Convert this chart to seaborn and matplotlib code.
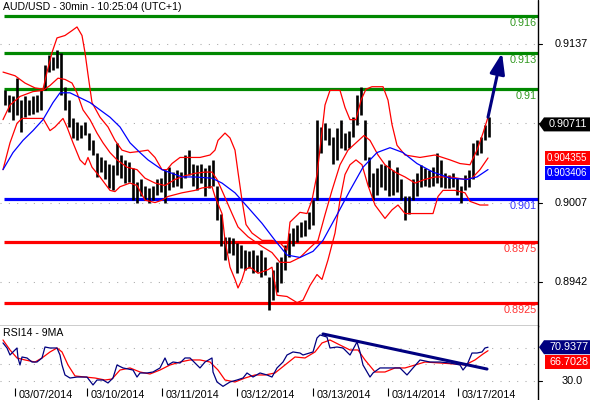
import numpy as np
import matplotlib
matplotlib.use("Agg")
import matplotlib.pyplot as plt
import seaborn as sns
from matplotlib.patches import Polygon, FancyArrowPatch
from matplotlib.lines import Line2D

sns.set_theme(style="white")
plt.rcParams['font.family'] = ['Liberation Sans', 'DejaVu Sans']

# ---------------- data ----------------
title = "AUD/USD - 30min - 10:25:04 (UTC+1)"
rsi_title = "RSI14 - 9MA"

bar_high = [0.9099, 0.9095, 0.9094, 0.9109, 0.9091, 0.9094, 0.9091, 0.9094, 0.9095, 0.9099,
            0.9120, 0.9128, 0.9126, 0.9132, 0.9130, 0.9102, 0.9091, 0.9076, 0.9073, 0.9071,
            0.9073, 0.9064, 0.9058, 0.9048, 0.9044, 0.9042, 0.9039, 0.9038, 0.9056, 0.9046,
            0.9042, 0.9040, 0.9035, 0.9024, 0.9026, 0.9021, 0.9019, 0.9021, 0.9026, 0.9027,
            0.9034, 0.9036, 0.9032, 0.9034, 0.9032, 0.9046, 0.9050, 0.9039, 0.9038, 0.9039,
            0.9035, 0.9038, 0.9042, 0.9021, 0.8998, 0.8979, 0.8979, 0.8978, 0.8974, 0.8972,
            0.8968, 0.8967, 0.8968, 0.8964, 0.8968, 0.8962, 0.8946, 0.8952, 0.8958, 0.8962,
            0.8972, 0.8982, 0.8986, 0.8989, 0.8991, 0.8993, 0.8999, 0.9009, 0.9075, 0.9069,
            0.9072, 0.9068, 0.9061, 0.9068, 0.9075, 0.9064, 0.9066, 0.9077, 0.9095, 0.9102,
            0.9075, 0.9044, 0.9031, 0.9035, 0.9039, 0.9038, 0.9042, 0.9034, 0.9036, 0.9026,
            0.9012, 0.9012, 0.9026, 0.9031, 0.9038, 0.9035, 0.9034, 0.9036, 0.9048, 0.9042,
            0.9031, 0.9030, 0.9031, 0.9027, 0.9021, 0.9030, 0.9034, 0.9056, 0.9058, 0.9061,
            0.9071, 0.9077]
bar_low = [0.9087, 0.9081, 0.9075, 0.9079, 0.9065, 0.9077, 0.9079, 0.9080, 0.9081, 0.9083,
           0.9099, 0.9114, 0.9116, 0.9117, 0.9095, 0.9083, 0.9069, 0.9060, 0.9058, 0.9060,
           0.9062, 0.9050, 0.9046, 0.9028, 0.9032, 0.9026, 0.9019, 0.9017, 0.9030, 0.9027,
           0.9023, 0.9024, 0.9009, 0.9007, 0.9012, 0.9009, 0.9007, 0.9009, 0.9013, 0.9016,
           0.9007, 0.9017, 0.9020, 0.9021, 0.9019, 0.9027, 0.9030, 0.9021, 0.9017, 0.9023,
           0.9012, 0.9019, 0.9021, 0.8993, 0.8971, 0.8960, 0.8966, 0.8964, 0.8949, 0.8953,
           0.8952, 0.8953, 0.8949, 0.8950, 0.8946, 0.8948, 0.8919, 0.8927, 0.8934, 0.8941,
           0.8952, 0.8962, 0.8971, 0.8975, 0.8979, 0.8980, 0.8985, 0.8989, 0.9009, 0.9048,
           0.9058, 0.9054, 0.9039, 0.9042, 0.9052, 0.9050, 0.9052, 0.9061, 0.9071, 0.9079,
           0.9042, 0.9020, 0.9009, 0.9013, 0.9020, 0.9017, 0.9012, 0.9013, 0.9016, 0.9009,
           0.8993, 0.8998, 0.9009, 0.9012, 0.9020, 0.9021, 0.9020, 0.9021, 0.9023, 0.9020,
           0.9019, 0.9019, 0.9020, 0.9013, 0.9007, 0.9017, 0.9020, 0.9026, 0.9046, 0.9048,
           0.9058, 0.9061]

upper_t = [3, 15, 25, 35, 43, 47, 52, 57, 65, 72, 77, 82, 85, 88, 92, 100, 108, 115, 122, 130,
           140, 148, 155, 162, 167, 172, 180, 190, 200, 210, 215, 218, 225, 230, 235, 238, 242,
           246, 252, 262, 272, 280, 287, 290, 300, 307, 312, 317, 321, 325, 330, 340, 345, 350,
           356, 361, 366, 372, 383, 388, 392, 397, 405, 420, 435, 450, 460, 470, 477, 483, 488]
upper_v = [0.9114, 0.9111, 0.9105, 0.9101, 0.9100, 0.9114, 0.9130, 0.9142, 0.9144, 0.9148,
           0.9151, 0.9144, 0.9130, 0.9112, 0.9089, 0.9077, 0.9069, 0.9058, 0.9050, 0.9048,
           0.9049, 0.9050, 0.9044, 0.9034, 0.9034, 0.9039, 0.9044, 0.9044, 0.9044, 0.9046,
           0.9050, 0.9058, 0.9064, 0.9060, 0.9050, 0.9032, 0.9009, 0.8989, 0.8982, 0.8976,
           0.8976, 0.8974, 0.8968, 0.8991, 0.8999, 0.8998, 0.9009, 0.9030, 0.9058, 0.9087,
           0.9099, 0.9099, 0.9085, 0.9075, 0.9075, 0.9091, 0.9100, 0.9102, 0.9102, 0.9091,
           0.9071, 0.9054, 0.9046, 0.9044, 0.9046, 0.9042, 0.9039, 0.9038, 0.9050, 0.9064,
           0.9077]

mid_t = [3, 10, 20, 33, 43, 50, 58, 65, 72, 77, 83, 90, 97, 103, 110, 117, 127, 137, 145, 155,
         165, 175, 185, 195, 205, 212, 217, 223, 232, 238, 248, 262, 272, 280, 290, 300, 310,
         318, 325, 332, 340, 348, 356, 364, 370, 378, 385, 395, 405, 415, 425, 435, 450, 465,
         472, 480, 488]
mid_v = [0.9075, 0.9087, 0.9094, 0.9098, 0.9099, 0.9103, 0.9109, 0.9108, 0.9105, 0.9097,
         0.9083, 0.9075, 0.9064, 0.9056, 0.9048, 0.9042, 0.9036, 0.9034, 0.9027, 0.9023,
         0.9021, 0.9026, 0.9029, 0.9031, 0.9032, 0.9032, 0.9026, 0.9015, 0.8998, 0.8987,
         0.8979, 0.8971, 0.8966, 0.8958, 0.8958, 0.8962, 0.8970, 0.8976, 0.8997, 0.9017,
         0.9038, 0.9050, 0.9056, 0.9062, 0.9058, 0.9046, 0.9038, 0.9032, 0.9028, 0.9023,
         0.9026, 0.9028, 0.9028, 0.9026, 0.9027, 0.9034, 0.904355]

lower_t = [3, 10, 17, 22, 43, 50, 55, 63, 67, 73, 80, 85, 88, 92, 100, 110, 115, 120, 130, 137,
           145, 155, 162, 168, 182, 195, 202, 212, 215, 222, 225, 230, 235, 238, 242, 245, 250,
           258, 268, 272, 277, 287, 297, 303, 310, 317, 322, 328, 335, 340, 345, 350, 356, 362,
           368, 375, 385, 392, 398, 405, 420, 433, 438, 443, 455, 465, 470, 480, 488]
lower_v = [0.9034, 0.9056, 0.9072, 0.9076, 0.9076, 0.9066, 0.9069, 0.9076, 0.9069, 0.9056,
           0.9042, 0.9038, 0.9044, 0.9036, 0.9028, 0.9017, 0.9016, 0.9020, 0.9023, 0.9021,
           0.9009, 0.9007, 0.9009, 0.9012, 0.9015, 0.9017, 0.9019, 0.9020, 0.9012, 0.8998,
           0.8976, 0.8954, 0.8944, 0.8937, 0.8944, 0.8952, 0.8954, 0.8949, 0.8952, 0.8954,
           0.8931, 0.8930, 0.8925, 0.8927, 0.8939, 0.8948, 0.8944, 0.8960, 0.8982, 0.9009,
           0.9030, 0.9038, 0.9042, 0.9038, 0.9021, 0.9005, 0.8994, 0.9001, 0.9005, 0.8998,
           0.8998, 0.8998, 0.9012, 0.9017, 0.9017, 0.9015, 0.9008, 0.9005, 0.9005]

ma_t = [3, 13, 23, 33, 43, 53, 60, 70, 80, 90, 100, 110, 120, 130, 140, 148, 162, 172, 182, 195,
        212, 222, 235, 248, 262, 275, 287, 300, 313, 323, 337, 350, 363, 377, 390, 403, 417,
        433, 450, 467, 477, 488]
ma_v = [0.9034, 0.9048, 0.9058, 0.9066, 0.9075, 0.9089, 0.9097, 0.9097, 0.9093, 0.9089,
        0.9083, 0.9077, 0.9069, 0.9056, 0.9048, 0.9042, 0.9034, 0.9031, 0.9028, 0.9028,
        0.9027, 0.9023, 0.9015, 0.9003, 0.8990, 0.8976, 0.8964, 0.8962, 0.8967, 0.8976,
        0.8997, 0.9017, 0.9036, 0.9048, 0.9052, 0.9048, 0.9039, 0.9032, 0.9027, 0.9026,
        0.9028, 0.903406]

rsi_t = [3, 7, 10, 13, 17, 18, 20, 22, 27, 32, 37, 42, 45, 50, 57, 60, 62, 65, 70, 77,
         87, 93, 97, 103, 108, 113, 117, 123, 133, 137, 140, 147, 153, 160, 165, 168, 173, 180,
         185, 190, 197, 200, 205, 212, 213, 217, 223, 230, 237, 243, 247, 253, 260, 267, 272,
         277, 283, 287, 293, 300, 303, 313, 317, 320, 327, 330, 337, 343, 350, 357, 360, 363,
         370, 373, 380, 390, 400, 407, 413, 420, 430, 440, 450, 460, 463, 467, 472, 477, 482,
         485, 488]
rsi_v = [76.1, 70.0, 61.5, 65.2, 70.0, 57.9, 49.4, 59.1, 57.9, 53.0, 53.0, 57.9, 71.2, 70.0,
         70.0, 61.5, 49.4, 37.3, 33.6, 34.8, 34.8, 25.2, 31.2, 31.2, 27.6, 33.6, 49.4, 45.8,
         43.3, 34.8, 39.7, 39.7, 40.9, 45.8, 57.9, 49.4, 53.0, 51.8, 57.9, 57.9, 49.4, 45.8,
         53.0, 57.9, 40.9, 28.8, 23.5, 28.8, 31.2, 33.6, 39.7, 34.8, 39.7, 37.3, 34.8, 45.8,
         53.0, 61.5, 65.2, 63.9, 61.5, 65.2, 82.1, 85.8, 83.3, 70.0, 71.2, 70.0, 61.5, 77.3,
         65.2, 49.4, 34.8, 39.7, 45.8, 45.8, 45.8, 37.3, 45.8, 55.5, 53.0, 53.0, 51.8, 49.4,
         43.3, 49.4, 63.9, 63.9, 65.2, 70.0, 70.9377]

rsima_t = [3, 10, 17, 25, 35, 42, 50, 57, 62, 68, 75, 85, 95, 105, 112, 120, 130, 140, 150,
           160, 170, 180, 190, 200, 210, 218, 225, 235, 245, 255, 265, 275, 285, 295, 305, 315,
           322, 330, 340, 350, 358, 365, 375, 385, 395, 405, 415, 425, 440, 455, 465, 475, 483,
           488]
rsima_v = [79.7, 67.6, 57.9, 55.5, 53.0, 57.9, 65.2, 70.0, 65.2, 49.4, 36.1, 34.8, 33.6, 31.2,
           32.4, 43.3, 45.8, 40.9, 38.5, 43.3, 49.4, 53.0, 55.5, 55.5, 53.0, 43.3, 31.2, 28.8,
           33.6, 37.3, 37.3, 39.7, 49.4, 59.1, 57.9, 65.2, 76.1, 79.7, 73.6, 67.6, 67.6, 55.5,
           40.9, 40.9, 45.8, 45.8, 49.4, 53.0, 51.8, 50.6, 49.4, 55.5, 62.7, 66.7028]

rsi_trend_t = [323, 487]
rsi_trend_v = [87.0, 44.5]
arrow_t = [488, 502]
arrow_v = [0.9077, 0.91296]

green_levels = [0.916, 0.913, 0.91]
green_labels = ['0.916', '0.913', '0.91']
blue_levels = [0.901]
blue_labels = ['0.901']
red_levels = [0.8975, 0.8925]
red_labels = ['0.8975', '0.8925']

price_ticks = [0.9137, 0.9072, 0.9007, 0.8942]
price_tick_labels = ['0.9137', '', '0.9007', '0.8942']
rsi_grid = [70, 50, 30]
date_t = [15, 87, 162, 237, 313, 388, 458]
date_labels = ['03/07/2014', '03/10/2014', '03/11/2014', '03/12/2014',
               '03/13/2014', '03/14/2014', '03/17/2014']

last_close = 0.90711
bb_mid_last = 0.904355
ma_last = 0.903406
rsi_last = 70.9377
rsi_ma_last = 66.7028

# ---------------- layout ----------------
W, H = 590, 400
fig = plt.figure(figsize=(W / 100, H / 100), dpi=100)
fig.patch.set_facecolor('white')


def fx(x):
    return x / W


def fy(y):
    return 1 - y / H


RIGHT = 538
ax = fig.add_axes([0, fy(326), fx(RIGHT), 326 / H])
axr = fig.add_axes([0, fy(388), fx(RIGHT), (388 - 326) / H])

ax.set_xlim(0, RIGHT)
ax.set_ylim(0.89058, 0.91731)
axr.set_xlim(0, RIGHT)
axr.set_ylim(21.5, 96.67)

for a in (ax, axr):
    a.set_facecolor('white')
    a.grid(False)
    for s in ('left', 'top', 'right'):
        a.spines[s].set_visible(False)
ax.spines['bottom'].set_visible(True)
ax.spines['bottom'].set_color('black')
ax.spines['bottom'].set_linewidth(1.0)
axr.spines['bottom'].set_visible(False)

GRID = dict(color='#a8a8a8', linewidth=0.75, linestyle=(0, (1, 7)), zorder=0)
for v in price_ticks:
    ax.axhline(v, **GRID)
for v in rsi_grid:
    axr.axhline(v, **GRID)

# horizontal levels
LW_LEVEL = 2.3
ax.hlines(green_levels, 4, RIGHT, colors='#008800', linewidth=LW_LEVEL, zorder=2)
ax.hlines(blue_levels, 4, RIGHT, colors='#0000ff', linewidth=LW_LEVEL, zorder=2)
ax.hlines(red_levels, 4, RIGHT, colors='#ff0000', linewidth=LW_LEVEL, zorder=2)


def level_label(val, txt, col):
    ax.annotate(txt, xy=(RIGHT - 1, val), xycoords='data', xytext=(0, -5.0),
                textcoords='offset points', ha='right', va='center', fontsize=7.8,
                color=col, zorder=5)


for v, t in zip(green_levels, green_labels):
    level_label(v, t, '#339922')
for v, t in zip(blue_levels, blue_labels):
    level_label(v, t, '#3333ff')
for v, t in zip(red_levels, red_labels):
    level_label(v, t, '#ff3333')

# price bars
bar_t = [5 + 4 * i for i in range(len(bar_high))]
ax.vlines(bar_t, bar_low, bar_high, colors='black', linewidth=1.9, zorder=3)

# bands and MA
for tt, vv, col in ((upper_t, upper_v, '#ff0000'), (mid_t, mid_v, '#ff0000'),
                    (lower_t, lower_v, '#ff0000'), (ma_t, ma_v, '#0000ff')):
    sns.lineplot(x=tt, y=vv, ax=ax, color=col, linewidth=0.9, sort=False,
                 estimator=None, legend=False, zorder=4)

arr = FancyArrowPatch((arrow_t[0], arrow_v[0]), (arrow_t[1], arrow_v[1]),
                      arrowstyle='-|>,head_length=1.25,head_width=0.45',
                      mutation_scale=10, color='#000080', linewidth=2.2,
                      shrinkA=0, shrinkB=0, zorder=6)
ax.add_patch(arr)

# RSI panel
sns.lineplot(x=rsima_t, y=rsima_v, ax=axr, color='#ff0000', linewidth=0.9, sort=False,
             estimator=None, legend=False, zorder=3)
sns.lineplot(x=rsi_t, y=rsi_v, ax=axr, color='#000080', linewidth=0.9, sort=False,
             estimator=None, legend=False, zorder=4)
sns.lineplot(x=rsi_trend_t, y=rsi_trend_v, ax=axr, color='#000080', linewidth=2.2,
             sort=False, estimator=None, legend=False, zorder=5)

for a in (ax, axr):
    a.set_xlabel('')
    a.set_ylabel('')
    a.set_yticks([])
ax.set_xticks([])
axr.set_xticks(date_t)
axr.set_xticklabels([''] * len(date_t))
axr.tick_params(axis='x', bottom=True, direction='out', length=5.5, width=0.8,
                color='black', pad=0)
for t, lab in zip(date_t, date_labels):
    axr.annotate(lab, xy=(t, 0), xycoords=('data', 'axes fraction'), xytext=(2.5, -5.2),
                 textcoords='offset points', ha='left', va='center', fontsize=7.8,
                 color='black', annotation_clip=False)

# right border line through whole height
fig.add_artist(Line2D([fx(RIGHT), fx(RIGHT)], [0, 1], color='black', linewidth=1.0,
                      transform=fig.transFigure))


def val_to_ypx(a, v):
    return H - a.transData.transform((0, v))[1]


for v, lab in zip(price_ticks, price_tick_labels):
    yp = val_to_ypx(ax, v)
    fig.add_artist(Line2D([fx(RIGHT), fx(RIGHT + 4)], [fy(yp), fy(yp)], color='black',
                          linewidth=0.8, transform=fig.transFigure))
    if lab:
        fig.text(fx(588), fy(yp), lab, ha='right', va='center', fontsize=7.8, color='black')

yp30 = val_to_ypx(axr, 30)
fig.add_artist(Line2D([fx(RIGHT), fx(RIGHT + 4)], [fy(yp30), fy(yp30)], color='black',
                      linewidth=0.8, transform=fig.transFigure))
fig.text(fx(562), fy(yp30), '30.0', ha='left', va='center', fontsize=7.8, color='black')


def tag(yc, text, fc, arrow=False, x0=545, fs=7.8, tx=549):
    top, bot = yc - 7, yc + 7
    if arrow:
        pts = [(RIGHT + 1, yc), (RIGHT + 6, top), (W + 2, top), (W + 2, bot), (RIGHT + 6, bot)]
    else:
        pts = [(x0, top), (W + 2, top), (W + 2, bot), (x0, bot)]
    fig.add_artist(Polygon([(fx(px), fy(py)) for px, py in pts], closed=True,
                           transform=fig.transFigure, facecolor=fc, edgecolor=fc,
                           linewidth=0))
    fig.text(fx(tx), fy(yc), text, ha='left', va='center', fontsize=fs, color='white')
    return bot


tag(val_to_ypx(ax, last_close), '0.90711', 'black', arrow=True)
yb = val_to_ypx(ax, bb_mid_last)
b1 = tag(yb, '0.904355', '#ff0000', fs=7.0, tx=547)
ym = max(val_to_ypx(ax, ma_last), b1 + 8)
tag(ym, '0.903406', '#0000ff', fs=7.0, tx=547)

yr = val_to_ypx(axr, rsi_last)
b2 = tag(yr, '70.9377', '#000080', arrow=True)
yrm = max(val_to_ypx(axr, rsi_ma_last), b2 + 8)
tag(yrm, '66.7028', '#ff0000')

# titles
fig.text(fx(3), fy(7), title, ha='left', va='center', fontsize=7.6, color='black')
fig.text(fx(3), fy(333.5), rsi_title, ha='left', va='center', fontsize=7.6, color='black')

fig.savefig('out.png', dpi=100, facecolor='white')
